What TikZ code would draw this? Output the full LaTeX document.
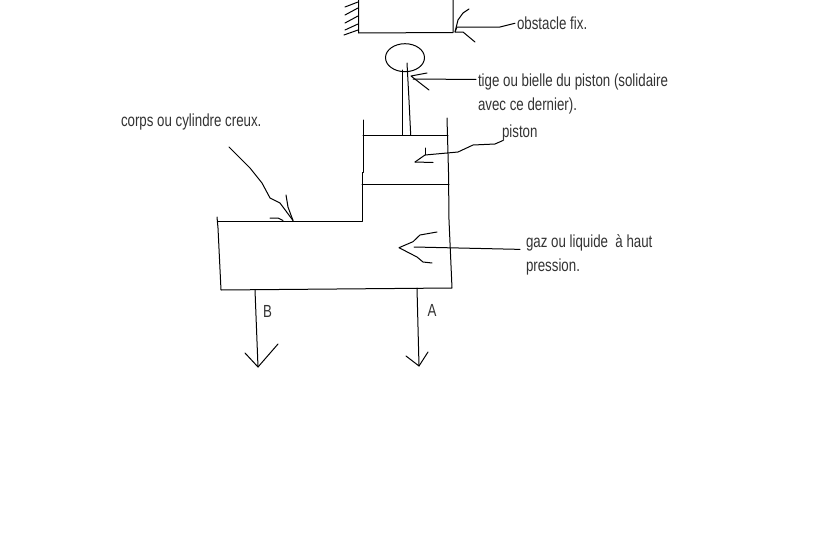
\documentclass[tikz,border=0pt]{standalone}
\usepackage{fontspec}
\setmainfont[FakeStretch=0.76]{Liberation Sans}
\tikzset{
  sketch/.style={draw=black,line width=1pt,line join=round,line cap=round},
  note/.style={anchor=base west,inner sep=0pt,outer sep=0pt,text=black!80,font=\fontsize{17.5}{20}\selectfont}
}
\begin{document}
\begin{tikzpicture}[x=1pt,y=-1pt]
\useasboundingbox[fill=white] (0,0) rectangle (815,549);
% labels
\node[note] (corps) at (121,126) {corps ou cylindre creux.};
\node[note] (obst) at (517,29.5) {obstacle fix.};
\node[note] (tige) at (478,86) {tige ou bielle du piston (solidaire};
\node[note] (avec) at (478,110) {avec ce dernier).};
\node[note] (pist) at (502,137) {piston};
\node[note] (gaz) at (526,247) {gaz ou liquide\ \ à haut};
\node[note] (press) at (526,271) {pression.};
\node[note] (B) at (263,317) {B};
\node[note] (A) at (427.5,316) {A};
% obstacle
\draw[sketch] (358.5,0) -- (358.5,33) -- (453,32.5) -- (453,0);
\draw[sketch] (345,7) -- (358,2) (345,15) -- (358,8) (345,23) -- (358,16) (345,30) -- (358,24) (344,35) -- (358,30);
\draw[sketch] (obst.west) ++(-2,0) -- (500,27) -- (457,27) -- (455,32);
\draw[sketch] (469,9) -- (463,13) -- (458,20) -- (455,32) -- (463,32) -- (475,42);
% rod and head
\draw[sketch] (405,57.7) ellipse [x radius=19.5,y radius=14];
\draw[sketch] (402.7,70) -- (402.7,135);
\draw[sketch] (407,63) -- (409,100) -- (410.7,135);
\draw[sketch] (tige.west) ++(-2,-2) -- (413,79);
\draw[sketch] (427,73) -- (411,76) -- (429,90);
% cylinder
\draw[sketch] (363.5,120) -- (363.5,172) -- (362.5,172) -- (362.5,221.5) -- (218,221.5);
\draw[sketch] (447,118) -- (448.5,172) -- (449,220) -- (452,288) -- (221,290) -- (218,228) -- (217,217);
\draw[sketch] (363,135.5) -- (448,135.5);
\draw[sketch] (362,184.5) -- (449,184.5);
% piston arrow
\draw[sketch] (pist.west) ++(1,8) -- (495,144) -- (473,145) -- (458,152) -- (425,155) -- (415,162);
\draw[sketch] (425,148) -- (425,155);
\draw[sketch] (415,162) -- (433,162.5);
% corps arrow
\draw[sketch] (229,147) -- (250,168) -- (262,183) -- (270,198) -- (280,203) -- (293,220.5);
\draw[sketch] (286,195) -- (288,207) -- (293,220.5);
\draw[sketch] (270,218) -- (278,218) -- (283,220.5);
% gas arrow
\draw[sketch] (gaz.west) ++(-6,7) -- (414,247);
\draw[sketch] (437,232) -- (420,235) -- (413,241.7) -- (399,247.7) -- (417,257) -- (423,262) -- (432,263);
% outlets
\draw[sketch] (255,290) -- (258,367);
\draw[sketch] (245,353) -- (258,367) -- (278,344);
\draw[sketch] (417,288) -- (419,366);
\draw[sketch] (406,356) -- (419,366) -- (428,352);
\end{tikzpicture}
\end{document}
